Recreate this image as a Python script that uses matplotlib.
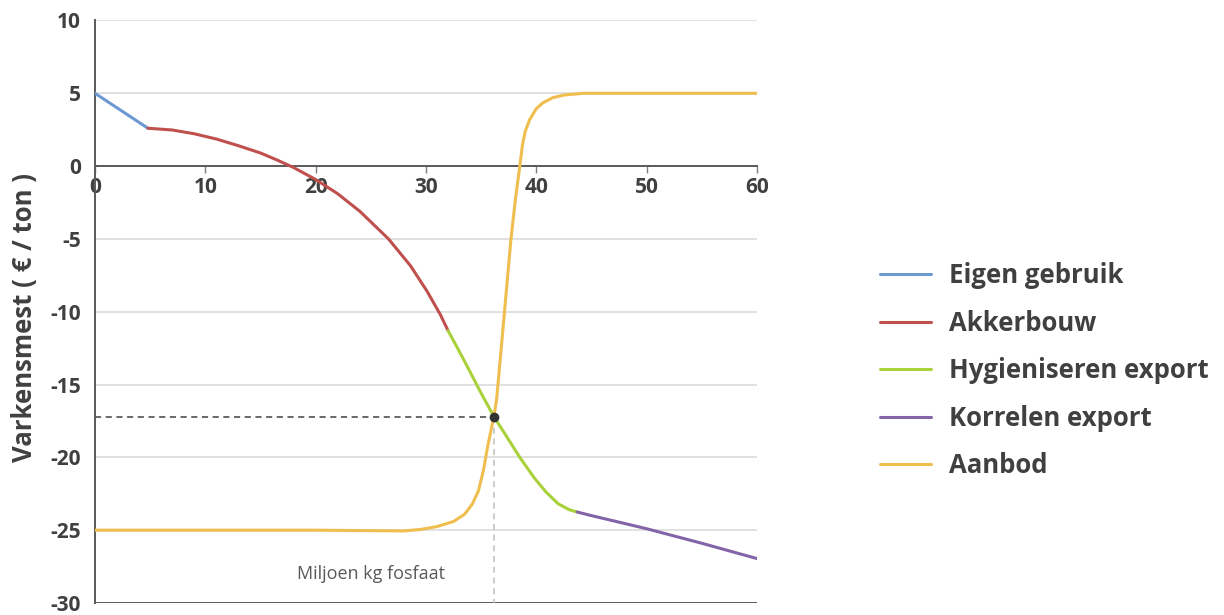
import matplotlib

matplotlib.use("Agg")

import matplotlib.pyplot as plt

plt.rcParams["font.family"] = ["Open Sans", "DejaVu Sans"]
plt.rcParams["axes.unicode_minus"] = False

# values (x = miljoen kg fosfaat, y = euro/ton)
eigen_x = [0, 4.8]
eigen_y = [5.0, 2.6]

akker_x = [4.8, 7, 9, 11, 13, 15, 16.5, 18, 20, 22, 24, 26.6, 28.6, 30.1, 31.3, 32]
akker_y = [2.6, 2.48, 2.22, 1.86, 1.4, 0.9, 0.42, -0.1, -0.92, -1.9, -3.1, -5.0, -6.85, -8.6, -10.2, -11.3]

hyg_x = [32, 33, 33.7, 35, 36.15, 37.5, 38.5, 39.8, 40.9, 42, 43, 43.7]
hyg_y = [-11.3, -12.7, -13.7, -15.6, -17.2, -18.8, -20.0, -21.4, -22.4, -23.2, -23.6, -23.75]

korrel_x = [43.7, 45, 50, 55, 60]
korrel_y = [-23.75, -24.0, -24.9, -25.9, -26.95]

aanbod_x = [0, 10, 20, 28, 29.5, 31, 32.5, 33.5, 34.2, 34.75, 35.2, 35.6, 36.15, 36.4,
            36.9, 37.3, 37.7, 38.1, 38.5, 38.75, 39.0, 39.4, 40.0, 40.6, 41.5, 42.5, 44.3, 50, 60]
aanbod_y = [-25, -25, -25, -25.05, -24.95, -24.75, -24.4, -23.9, -23.2, -22.3, -20.9, -19.2, -17.2, -16.0,
            -11.8, -8.4, -5.0, -2.3, 0.0, 1.5, 2.4, 3.2, 3.95, 4.35, 4.7, 4.88, 5.0, 5.0, 5.0]

snijpunt = (36.15, -17.2)

series = [
    ("Eigen gebruik", eigen_x, eigen_y, "#6d99d2"),
    ("Akkerbouw", akker_x, akker_y, "#c0504d"),
    ("Hygieniseren export", hyg_x, hyg_y, "#a9d13a"),
    ("Korrelen export", korrel_x, korrel_y, "#8464a8"),
    ("Aanbod", aanbod_x, aanbod_y, "#efbe4f"),
]

dark = "#404040"

fig = plt.figure(figsize=(12.24, 6.15), dpi=100)
ax = fig.add_axes([0.0776, 0.0195, 0.5409, 0.9472])

for y in [10, 5, -5, -10, -15, -20, -25]:
    ax.axhline(y, color="#d9d9d9", lw=1.1, zorder=0)
ax.axhline(-30, color="#595959", lw=1.4, zorder=1)

for label, xs, ys, color in series:
    ax.plot(xs, ys, color=color, lw=2.2, label=label, solid_capstyle="round",
            solid_joinstyle="round", zorder=3)

sx, sy = snijpunt
ax.plot([0, sx], [sy, sy], color="#404040", lw=1.1, ls=(0, (4, 3)), zorder=2)
ax.plot([sx, sx], [sy, -30], color="#bfbfbf", lw=1.1, ls=(0, (4, 3)), zorder=2)
ax.plot([sx], [sy], "o", color="#333333", ms=6, zorder=4)

ax.text(25.0, -28.0, "Miljoen kg fosfaat", ha="center", va="center", fontsize=13, color="#595959")

ax.set_xlim(0, 60)
ax.set_ylim(-30, 10)
ax.set_xticks(range(0, 61, 10))
ax.set_yticks(range(-30, 11, 5))

ax.spines["right"].set_visible(False)
ax.spines["top"].set_visible(False)
ax.spines["bottom"].set_position(("data", 0))
ax.spines["bottom"].set_color("#595959")
ax.spines["bottom"].set_linewidth(1.4)
ax.spines["left"].set_color("#595959")
ax.spines["left"].set_linewidth(1.4)

ax.tick_params(axis="x", direction="out", length=5, width=1, color="#7f7f7f",
               labelsize=15, labelcolor=dark, pad=3)
ax.tick_params(axis="y", length=0, labelsize=15, labelcolor=dark, pad=10)
for t in ax.get_xticklabels() + ax.get_yticklabels():
    t.set_fontweight("bold")

ax.set_ylabel("Varkensmest ( € / ton )", fontsize=18.5, fontweight="bold", color=dark)
ax.yaxis.set_label_coords(-0.086, 0.49)

fig.legend(loc="upper left", bbox_to_anchor=(880 / 1224, 1 - 262 / 615), frameon=False,
           prop={"size": 18.5, "weight": "bold"}, labelcolor=dark, handlelength=2.0,
           handletextpad=0.7, labelspacing=0.8, borderpad=0, borderaxespad=0)

fig.savefig("out.png", dpi=100, facecolor="white")
